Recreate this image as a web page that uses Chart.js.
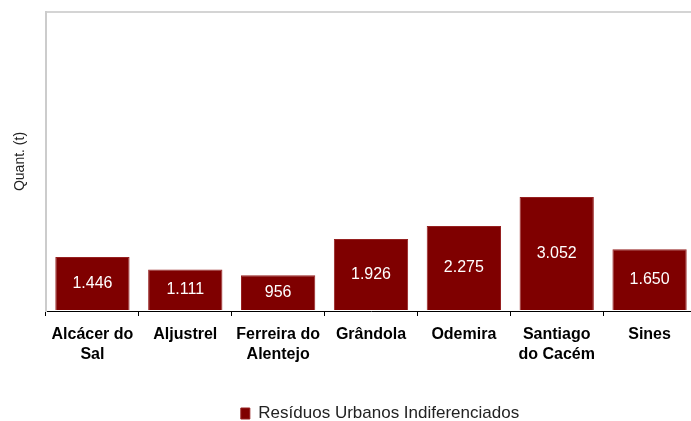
<!DOCTYPE html>
<html>
<head>
<meta charset="utf-8">
<script src="https://cdn.jsdelivr.net/npm/chart.js@4.4.1/dist/chart.umd.min.js"></script>
<style>
    html, body { margin: 0; padding: 0; background: #fff; overflow: hidden; }
    #wrap { width: 691px; height: 421px; overflow: hidden; }
</style>
</head>
<body>
<div id="wrap"><canvas id="chart" width="760" height="421"></canvas></div>
<script>
// Data
const categories = [['Alcácer do', 'Sal'], ['Aljustrel'], ['Ferreira do', 'Alentejo'], ['Grândola'], ['Odemira'], ['Santiago', 'do Cacém'], ['Sines']];
const seriesName = 'Resíduos Urbanos Indiferenciados';
const values = [1446, 1111, 956, 1926, 2275, 3052, 1650];
const yMax = 8000;

const barColor = '#7f0000';

// pt-PT style thousands separator
function fmt(v) {
    return String(v).replace(/\B(?=(\d{3})+(?!\d))/g, '.');
}

// White value labels in the middle of each bar
const valueLabels = {
    id: 'valueLabels',
    afterDatasetsDraw(chart) {
        const ctx = chart.ctx;
        const meta = chart.getDatasetMeta(0);
        ctx.save();
        ctx.fillStyle = '#ffffff';
        ctx.font = '16px "Liberation Sans", Arial, sans-serif';
        ctx.textAlign = 'center';
        ctx.textBaseline = 'middle';
        meta.data.forEach((bar, i) => {
            ctx.fillText(fmt(values[i]), bar.x, (bar.y + bar.base) / 2);
        });
        ctx.restore();
    }
};

new Chart(document.getElementById('chart'), {
    type: 'bar',
    data: {
        labels: categories,
        datasets: [{
            label: seriesName,
            data: values,
            backgroundColor: barColor,
            borderColor: '#962020',
            borderWidth: 1,
            barPercentage: 0.8,
            categoryPercentage: 1.0
        }]
    },
    options: {
        responsive: false,
        animation: false,
        devicePixelRatio: 1,
        layout: { padding: { top: 12, left: 0, right: 0, bottom: -11 } },
        plugins: {
            tooltip: { enabled: false },
            legend: {
                position: 'bottom',
                labels: {
                    boxWidth: 9,
                    boxHeight: 11,
                    padding: 0,
                    color: '#222',
                    font: { family: '"Liberation Sans", Arial, sans-serif', size: 17 }
                }
            }
        },
        scales: {
            x: {
                grid: {
                    display: true,
                    offset: true,
                    drawOnChartArea: false,
                    drawTicks: true,
                    tickLength: 5,
                    color: '#000'
                },
                border: { display: true, color: '#000', width: 1 },
                ticks: {
                    color: '#000',
                    padding: 9,
                    maxRotation: 0,
                    autoSkip: false,
                    font: { family: '"Liberation Sans", Arial, sans-serif', size: 16, weight: 'bold', lineHeight: 1.25 }
                },
                afterFit: s => { s.height = 94; }
            },
            y: {
                min: 0,
                max: yMax,
                ticks: { display: false, stepSize: yMax },
                grid: {
                    drawTicks: false,
                    lineWidth: 2,
                    color: c => (c.tick && c.tick.value === yMax) ? '#d4d4d4' : 'rgba(0,0,0,0)'
                },
                border: { display: true, color: '#cccccc', width: 2 },
                title: {
                    display: true,
                    text: 'Quant. (t)',
                    color: '#222',
                    padding: { top: 12, bottom: 0 },
                    font: { family: '"Liberation Sans", Arial, sans-serif', size: 14 }
                },
                afterFit: s => { s.width = 46; }
            },
            yR: {
                position: 'right',
                display: true,
                ticks: { display: false },
                grid: { display: false },
                border: { display: false },
                afterFit: s => { s.width = 64; }
            }
        }
    },
    plugins: [valueLabels]
});
</script>
</body>
</html>
